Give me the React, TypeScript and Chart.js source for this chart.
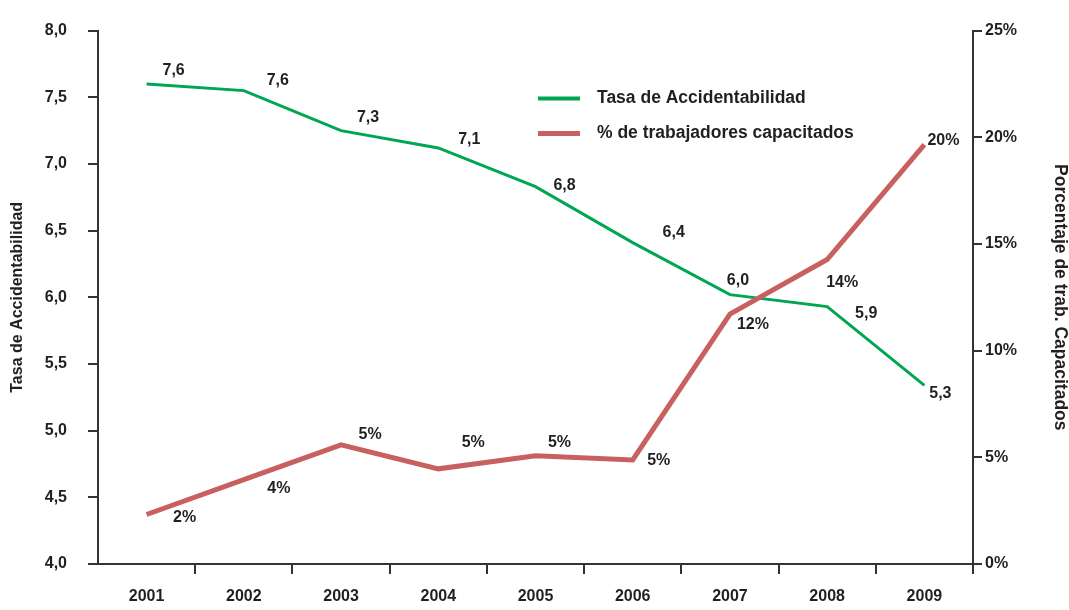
import React, { useEffect, useRef } from "react";
import { Chart, registerables } from "chart.js";

Chart.register(...registerables);

// ---- data ----
const years = ["2001", "2002", "2003", "2004", "2005", "2006", "2007", "2008", "2009"];
const tasaAccidentabilidad = [7.6, 7.55, 7.25, 7.12, 6.83, 6.41, 6.02, 5.93, 5.34];
const pctCapacitados = [2.32, 3.95, 5.58, 4.46, 5.07, 4.88, 11.71, 14.27, 19.66];
const tasaLabels = ["7,6", "7,6", "7,3", "7,1", "6,8", "6,4", "6,0", "5,9", "5,3"];
const pctLabels = ["2%", "4%", "5%", "5%", "5%", "5%", "12%", "14%", "20%"];
const seriesNames = ["Tasa de Accidentabilidad", "% de trabajadores capacitados"];
const leftTitle = "Tasa de Accidentabilidad";
const rightTitle = "Porcentaje de trab. Capacitados";

// ---- styling ----
const GREEN = "#00a651";
const RED = "#c8605f";
const TEXT = "#231f20";
const AXIS = "#333333";
const FONT = '"Liberation Sans", Arial, Helvetica, sans-serif';
// label offsets relative to each point (styling only)
const tasaLabelOffsets = [[27, -13], [34, -10], [27, -13], [31, -8], [29, -1], [41, -10], [8, -14], [39, 7], [16, 8]];
const pctLabelOffsets = [[38, 3], [35, 9], [29, -10], [35, -26], [24, -13], [26, 1], [23, 10], [15, 23], [19, -4]];

const overlayPlugin = {
  id: "overlay",
  afterDatasetsDraw(chart: any) {
    const ctx = chart.ctx;
    ctx.save();
    ctx.fillStyle = TEXT;
    ctx.textAlign = "center";
    ctx.textBaseline = "middle";
    ctx.font = `bold 16px ${FONT}`;
    const draw = (dsIndex: number, labels: string[], offs: number[][]) => {
      const meta = chart.getDatasetMeta(dsIndex);
      meta.data.forEach((pt: any, i: number) => {
        ctx.fillText(labels[i], pt.x + offs[i][0], pt.y + offs[i][1]);
      });
    };
    draw(0, tasaLabels, tasaLabelOffsets);
    draw(1, pctLabels, pctLabelOffsets);

    // legend
    const ca = chart.chartArea;
    const lx = ca.left + 440;
    const ly = ca.top + 68;
    const colors = [GREEN, RED];
    const widths = [4, 5];
    ctx.textAlign = "left";
    ctx.font = `bold 17.5px ${FONT}`;
    seriesNames.forEach((name, i) => {
      const y = ly + i * 35;
      ctx.strokeStyle = colors[i];
      ctx.lineWidth = widths[i];
      ctx.beginPath();
      ctx.moveTo(lx, y);
      ctx.lineTo(lx + 42, y);
      ctx.stroke();
      ctx.fillText(name, lx + 59, y);
    });
    ctx.restore();
  },
};

export default function App() {
  const ref = useRef<HTMLCanvasElement | null>(null);
  useEffect(() => {
    document.body.style.margin = "0";
    if (!ref.current) return;
    const chart = new Chart(ref.current, {
      type: "line",
      data: {
        labels: years,
        datasets: [
          {
            label: seriesNames[0],
            data: tasaAccidentabilidad,
            borderColor: GREEN,
            backgroundColor: GREEN,
            borderWidth: 3,
            pointRadius: 0,
            tension: 0,
            yAxisID: "y",
            order: 1,
            borderJoinStyle: "miter",
          },
          {
            label: seriesNames[1],
            data: pctCapacitados,
            borderColor: RED,
            backgroundColor: RED,
            borderWidth: 5,
            pointRadius: 0,
            tension: 0,
            yAxisID: "y1",
            order: 0,
            borderJoinStyle: "miter",
          },
        ],
      },
      options: {
        responsive: false,
        animation: false,
        layout: { padding: { top: 27, right: 0, bottom: 0, left: 0 } },
        plugins: { legend: { display: false }, tooltip: { enabled: false }, title: { display: false } },
        scales: {
          x: {
            type: "category",
            offset: true,
            grid: {
              offset: true,
              drawOnChartArea: false,
              drawTicks: true,
              tickLength: 10,
              lineWidth: 2,
              color: (c: any) => (c.index === 0 ? "rgba(0,0,0,0)" : AXIS),
            },
            border: { display: true, color: AXIS, width: 2 },
            ticks: { color: TEXT, font: { family: FONT, size: 16, weight: "bold" }, padding: 13, maxRotation: 0 },
            afterFit: (s: any) => {
              s.height = 46;
            },
          },
          y: {
            position: "left",
            min: 4,
            max: 8,
            grid: { drawOnChartArea: false, drawTicks: true, tickLength: 10, lineWidth: 2, color: AXIS },
            border: { display: true, color: AXIS, width: 2 },
            ticks: {
              stepSize: 0.5,
              color: TEXT,
              font: { family: FONT, size: 16, weight: "bold" },
              padding: 21,
              callback: (v: any) => Number(v).toFixed(1).replace(".", ","),
            },
            title: {
              display: true,
              text: leftTitle,
              color: TEXT,
              font: { family: FONT, size: 16, weight: "bold", lineHeight: 1.2 },
              padding: { top: 8, bottom: 0 },
            },
            afterFit: (s: any) => {
              s.width = 98;
            },
          },
          y1: {
            position: "right",
            min: 0,
            max: 25,
            grid: { drawOnChartArea: false, drawTicks: true, tickLength: 9, lineWidth: 2, color: AXIS },
            border: { display: true, color: AXIS, width: 2 },
            ticks: {
              stepSize: 5,
              color: TEXT,
              font: { family: FONT, size: 16, weight: "bold" },
              padding: 3,
              callback: (v: any) => `${v}%`,
            },
            title: {
              display: true,
              text: rightTitle,
              color: TEXT,
              font: { family: FONT, size: 17.5, weight: "bold", lineHeight: 1 },
              padding: { top: 0, bottom: 0 },
            },
            afterFit: (s: any) => {
              s.width = 96;
            },
          },
        },
      },
      plugins: [overlayPlugin],
    });
    return () => chart.destroy();
  }, []);
  return (
    <div style={{ width: 1069, height: 610, background: "#fff" }}>
      <canvas ref={ref} width={1069} height={610} style={{ display: "block" }} />
    </div>
  );
}
